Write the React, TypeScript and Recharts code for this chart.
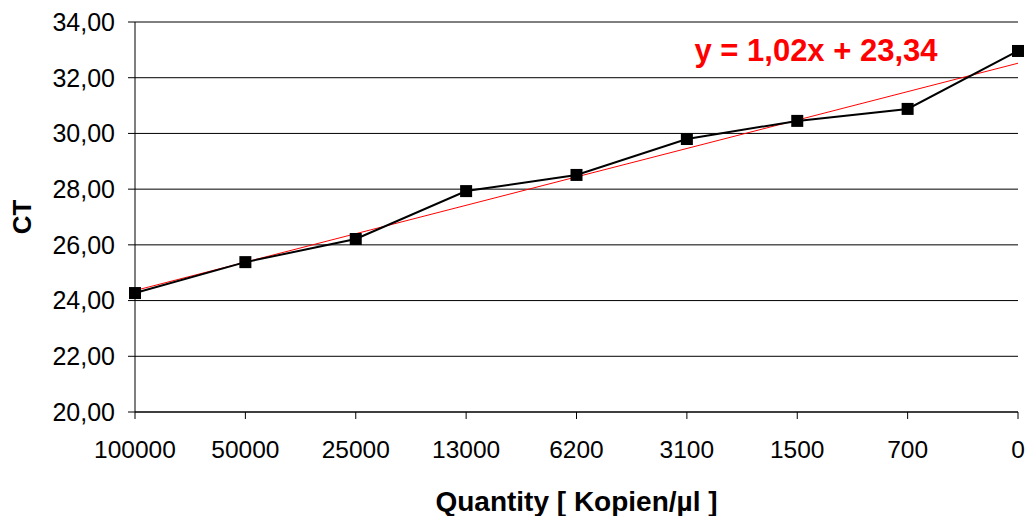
import React from 'react';
import { LineChart, Line, XAxis, YAxis, CartesianGrid, ReferenceLine } from 'recharts';

const categories = ['100000', '50000', '25000', '13000', '6200', '3100', '1500', '700', '0'];
const ctValues = [24.27, 25.38, 26.21, 27.93, 28.51, 29.8, 30.45, 30.88, 32.96];
const yTicks = [20, 22, 24, 26, 28, 30, 32, 34];
const trendStart = 24.36;
const trendEnd = 32.52;
const equationText = 'y = 1,02x + 23,34';
const xTitle = 'Quantity [ Kopien/µl ]';
const yTitle = 'CT';

const data = categories.map((c, i) => ({ q: c, ct: ctValues[i] }));

const FONT = '"Liberation Sans", Arial, sans-serif';

const SquareDot = (props: any) => {
  const { cx, cy, index } = props;
  if (cx == null || cy == null) return null;
  return <rect key={index} x={cx - 6} y={cy - 6} width={12} height={12} fill="#000" />;
};

export default function App() {
  return (
    <div style={{ position: 'absolute', left: 0, top: 0, background: '#fff' }}>
      <LineChart
        width={1028}
        height={516}
        data={data}
        margin={{ top: 22, right: 10, left: 0, bottom: 0 }}
      >
        <CartesianGrid vertical={false} stroke="#000" strokeWidth={1} />
        <XAxis
          dataKey="q"
          height={104}
          tickSize={7}
          tickMargin={22}
          stroke="#000"
          tick={{ fill: '#000', fontSize: 24.5, fontFamily: FONT }}
          interval={0}
          label={{
            value: xTitle,
            position: 'insideBottom',
            offset: 5,
            fill: '#000',
            fontSize: 28,
            fontWeight: 'bold',
            fontFamily: FONT,
          }}
        />
        <YAxis
          width={135}
          domain={[20, 34]}
          ticks={yTicks}
          tickSize={7}
          tickMargin={13}
          stroke="#000"
          tick={{ fill: '#000', fontSize: 25, fontFamily: FONT }}
          tickFormatter={(v: number) => v.toFixed(2).replace('.', ',')}
          label={{
            value: yTitle,
            angle: -90,
            position: 'insideLeft',
            offset: 22,
            fill: '#000',
            fontSize: 26,
            fontWeight: 'bold',
            fontFamily: FONT,
            style: { textAnchor: 'middle' },
          }}
        />
        <ReferenceLine
          segment={[
            { x: categories[0], y: trendStart },
            { x: categories[categories.length - 1], y: trendEnd },
          ]}
          stroke="#ff0000"
          strokeWidth={1}
          ifOverflow="visible"
        />
        <Line
          type="linear"
          dataKey="ct"
          stroke="#000"
          strokeWidth={2}
          dot={<SquareDot />}
          activeDot={false}
          isAnimationActive={false}
        />
        <text
          x={816}
          y={61}
          textAnchor="middle"
          fill="#ff0000"
          fontSize={31}
          fontWeight="bold"
          fontFamily={FONT}
        >
          {equationText}
        </text>
      </LineChart>
    </div>
  );
}
